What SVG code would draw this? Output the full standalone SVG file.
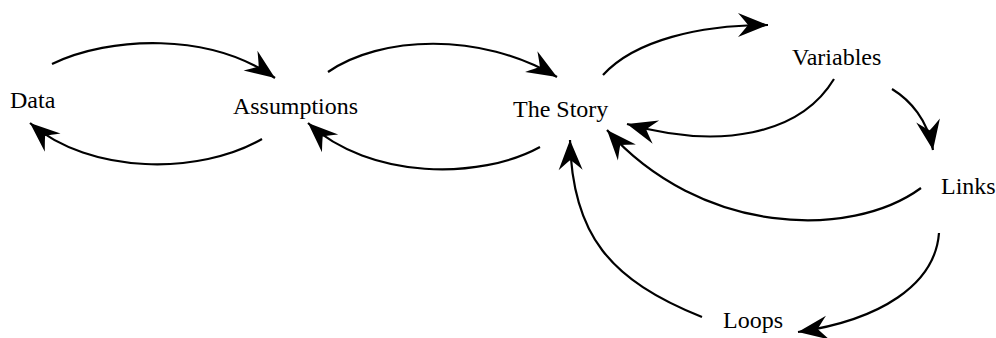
<svg xmlns="http://www.w3.org/2000/svg" width="996" height="338" viewBox="0 0 996 338">
  <defs>
    <style>
      .label { font-family: "Liberation Serif", "Times New Roman", serif; font-size: 24px; fill: #000; }
      .conn { fill: none; stroke: #000; stroke-width: 2.2; marker-end: url(#barb); }
    </style>
    <!-- barbed arrowhead, tip at the path end -->
    <marker id="barb" markerUnits="userSpaceOnUse" viewBox="-34 -16 36 32" markerWidth="36" markerHeight="32" refX="0" refY="0" orient="auto">
      <path d="M0,0 L-30,-12 Q-23,-4 -20,0 Q-23,4 -30,12 Z" fill="#000"/>
    </marker>
  </defs>
  <rect width="996" height="338" fill="#fff"/>

  <g id="connectors">
    <!-- Data <-> Assumptions -->
    <path class="conn" d="M52,64 C110,36 210,32 275,78"/>
    <path class="conn" d="M262,139 C200,175 90,175 30,123"/>
    <!-- Assumptions <-> The Story -->
    <path class="conn" d="M328,72 C380,36 480,31 557,77"/>
    <path class="conn" d="M540,147 C480,180 370,180 308,123"/>
    <!-- The Story <-> Variables -->
    <path class="conn" d="M603,75 C635,40 700,25 768,25"/>
    <path class="conn" d="M834,79 C800,135 720,150 627,124"/>
    <!-- Variables -> Links -->
    <path class="conn" d="M892,89 C910,100 928,120 933,150"/>
    <!-- Links -> The Story -->
    <path class="conn" d="M921,188 C850,240 700,235 607,130"/>
    <!-- Links -> Loops -->
    <path class="conn" d="M939,233 C935,285 880,320 798,332"/>
    <!-- Loops -> The Story -->
    <path class="conn" d="M702,317 C610,280 572,235 570,140"/>
  </g>

  <g id="node-data"><text class="label" x="10" y="108">Data</text></g>
  <g id="node-assumptions"><text class="label" x="233" y="114" textLength="125" lengthAdjust="spacingAndGlyphs">Assumptions</text></g>
  <g id="node-story"><text class="label" x="513" y="117">The Story</text></g>
  <g id="node-variables"><text class="label" x="792" y="65">Variables</text></g>
  <g id="node-links"><text class="label" x="941" y="194">Links</text></g>
  <g id="node-loops"><text class="label" x="723" y="328">Loops</text></g>
</svg>
